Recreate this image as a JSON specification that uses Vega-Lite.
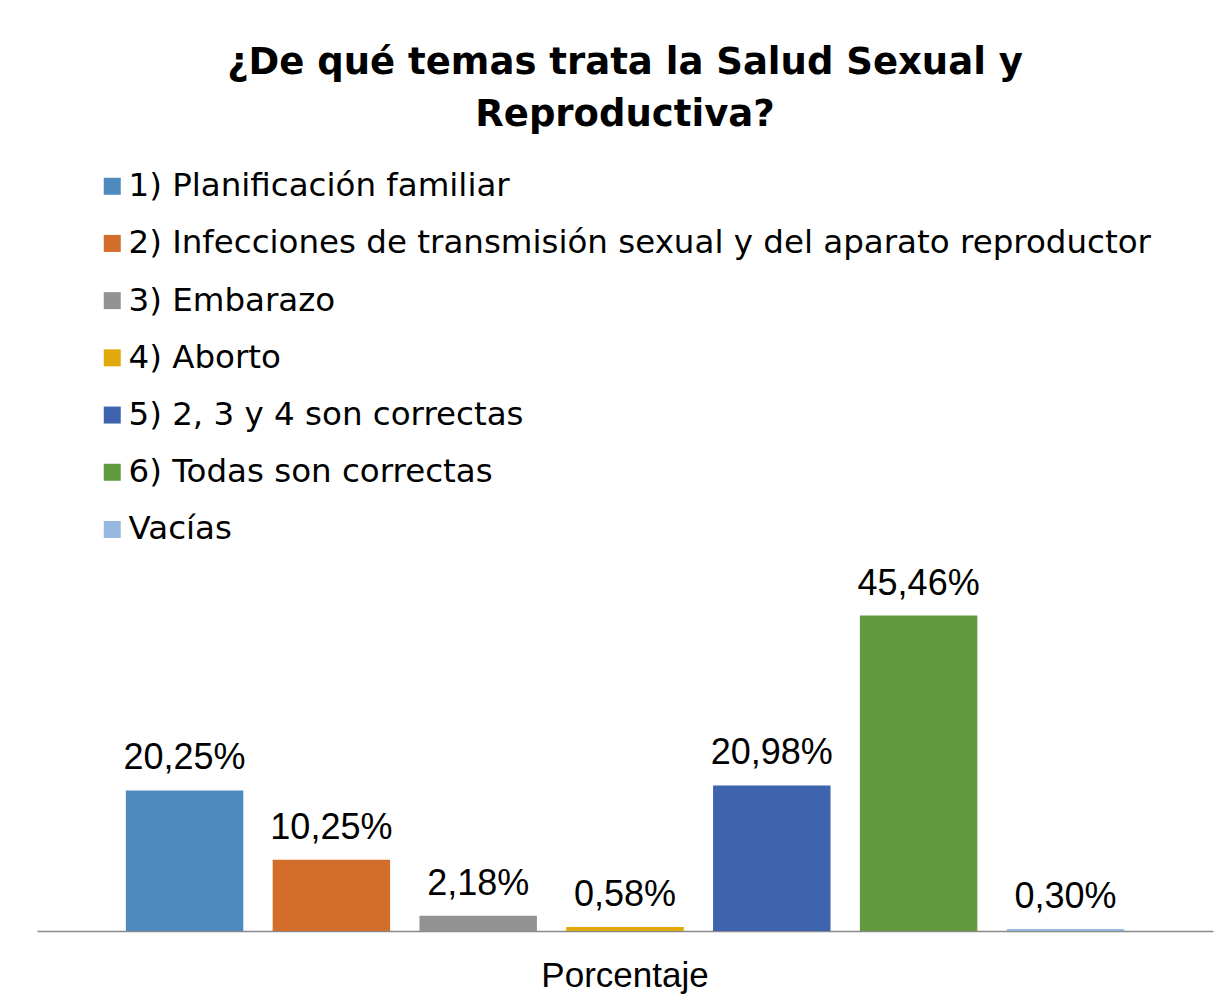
{
  "$schema": "https://vega.github.io/schema/vega-lite/v6.json",
  "width": 1176,
  "height": 347,
  "autosize": {"type": "none"},
  "padding": {"left": 37, "top": 584, "right": 18, "bottom": 72},
  "background": "#ffffff",
  "config": {
    "locale": {"number": {"decimal": ",", "thousands": ".", "grouping": [3], "currency": ["", " €"]}},
    "view": {"stroke": null},
    "font": "Liberation Sans"
  },
  "title": {
    "text": ["¿De qué temas trata la Salud Sexual y", "Reproductiva?"],
    "font": "DejaVu Sans",
    "fontSize": 37,
    "fontWeight": "bold",
    "lineHeight": 52,
    "anchor": "middle",
    "frame": "group",
    "color": "#000000",
    "dy": -32
  },
  "data": {
    "values": [
      {"grupo": "Porcentaje", "categoria": "1) Planificación familiar", "valor": 0.2025},
      {"grupo": "Porcentaje", "categoria": "2) Infecciones de transmisión sexual y del aparato reproductor", "valor": 0.1025},
      {"grupo": "Porcentaje", "categoria": "3) Embarazo", "valor": 0.0218},
      {"grupo": "Porcentaje", "categoria": "4) Aborto", "valor": 0.0058},
      {"grupo": "Porcentaje", "categoria": "5) 2, 3 y 4 son correctas", "valor": 0.2098},
      {"grupo": "Porcentaje", "categoria": "6) Todas son correctas", "valor": 0.4546},
      {"grupo": "Porcentaje", "categoria": "Vacías", "valor": 0.003}
    ]
  },
  "encoding": {
    "x": {
      "field": "grupo",
      "type": "nominal",
      "scale": {"paddingInner": 0, "paddingOuter": 0.089},
      "axis": {
        "title": null,
        "domainColor": "#898989",
        "domainWidth": 1.5,
        "ticks": false,
        "grid": false,
        "labelAngle": 0,
        "labelFontSize": 35,
        "labelFont": "Liberation Sans",
        "labelColor": "#000000",
        "labelPadding": 27
      }
    },
    "xOffset": {
      "field": "categoria",
      "type": "nominal",
      "sort": null,
      "scale": {"paddingInner": 0.2, "paddingOuter": 0}
    },
    "y": {
      "field": "valor",
      "type": "quantitative",
      "scale": {"domain": [0, 0.5]},
      "axis": null
    }
  },
  "layer": [
    {
      "mark": {"type": "bar"},
      "encoding": {
        "color": {
          "field": "categoria",
          "type": "nominal",
          "sort": null,
          "scale": {"range": ["#4E8ABE", "#D36D2B", "#929292", "#E1A90B", "#3D64AC", "#619A3E", "#97B9E0"]},
          "legend": {
            "orient": "none",
            "legendX": 59,
            "legendY": -414,
            "title": null,
            "symbolType": "square",
            "symbolSize": 289,
            "symbolStrokeWidth": 0,
            "symbolOpacity": 1,
            "labelFont": "DejaVu Sans",
            "labelFontSize": 32.5,
            "labelColor": "#000000",
            "labelOffset": 0,
            "labelLimit": 0,
            "rowPadding": 24.2
          }
        }
      }
    },
    {
      "mark": {"type": "text", "baseline": "alphabetic", "dy": -21, "fontSize": 36, "font": "Liberation Sans", "color": "#000000"},
      "encoding": {
        "text": {"field": "valor", "type": "quantitative", "format": ".2%"}
      }
    }
  ]
}
